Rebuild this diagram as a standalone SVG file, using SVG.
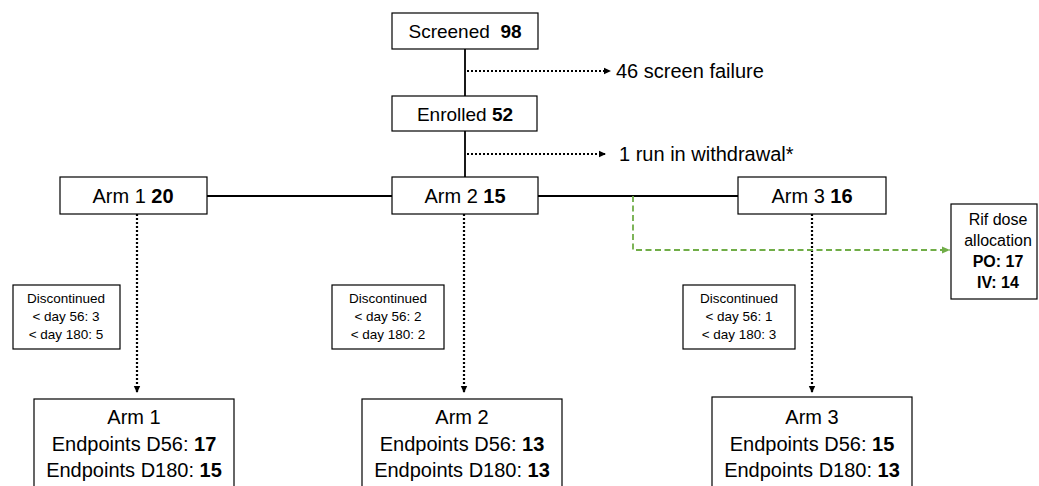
<svg xmlns="http://www.w3.org/2000/svg" width="1039" height="486" viewBox="0 0 1039 486">
<style>
  text { font-family: "Liberation Sans", Arial, sans-serif; fill: #000; }
  .box { fill: #fff; stroke: #000; stroke-width: 1.2; }
  .solid { stroke: #000; stroke-width: 1.8; fill: none; }
  .dot { stroke: #000; stroke-width: 2; stroke-dasharray: 2 2; fill: none; }
  .dotv { stroke: #000; stroke-width: 2.2; stroke-dasharray: 2 2; fill: none; }
  .green { stroke: #70AD47; stroke-width: 1.8; stroke-dasharray: 6 3.5; fill: none; }
  .t19 { font-size: 19px; }
  .t20 { font-size: 20px; }
  .t13 { font-size: 13.5px; }
  .t16 { font-size: 16px; }
  b, .b { font-weight: bold; }
</style>
<defs>
  <marker id="ab" markerWidth="8" markerHeight="8" refX="7" refY="4" orient="auto" markerUnits="userSpaceOnUse">
    <path d="M0,0.8 L7,4 L0,7.2 Z" fill="#000"/>
  </marker>
  <marker id="ag" markerWidth="9" markerHeight="9" refX="8" refY="4.5" orient="auto" markerUnits="userSpaceOnUse">
    <path d="M0,1 L8,4.5 L0,8 Z" fill="#70AD47"/>
  </marker>
</defs>

<g id="connectors">
  <line class="solid" x1="465" y1="49" x2="465" y2="96"/>
  <line class="solid" x1="465" y1="131" x2="465" y2="177"/>
  <line class="solid" x1="207" y1="196" x2="392" y2="196"/>
  <line class="solid" x1="538" y1="196" x2="738" y2="196"/>
  <line class="dot" x1="467" y1="71" x2="611" y2="71" marker-end="url(#ab)"/>
  <line class="dot" x1="467" y1="154" x2="606" y2="154" marker-end="url(#ab)"/>
  <line class="dotv" x1="137" y1="214" x2="137" y2="393" marker-end="url(#ab)"/>
  <line class="dotv" x1="464" y1="214" x2="464" y2="393" marker-end="url(#ab)"/>
  <line class="dotv" x1="812" y1="214" x2="812" y2="393" marker-end="url(#ab)"/>
  <polyline class="green" points="633,196 633,250 950,250" marker-end="url(#ag)"/>
</g>

<g id="screened">
  <rect class="box" x="392" y="13" width="146" height="36"/>
  <text class="t19" x="465" y="38" text-anchor="middle" xml:space="preserve">Screened  <tspan class="b">98</tspan></text>
</g>
<g id="screen-failure">
  <text class="t20" x="616" y="78">46 screen failure</text>
</g>
<g id="enrolled">
  <rect class="box" x="392" y="96" width="145" height="35"/>
  <text class="t19" x="465" y="121" text-anchor="middle">Enrolled <tspan class="b">52</tspan></text>
</g>
<g id="withdrawal">
  <text class="t20" x="619" y="161">1 run in withdrawal*</text>
</g>

<g id="arm1">
  <rect class="box" x="60" y="177" width="147" height="37"/>
  <text class="t20" x="133" y="203" text-anchor="middle">Arm 1 <tspan class="b">20</tspan></text>
</g>
<g id="arm2">
  <rect class="box" x="392" y="177" width="146" height="37"/>
  <text class="t20" x="465" y="203" text-anchor="middle">Arm 2 <tspan class="b">15</tspan></text>
</g>
<g id="arm3">
  <rect class="box" x="738" y="177" width="148" height="37"/>
  <text class="t20" x="812" y="203" text-anchor="middle">Arm 3 <tspan class="b">16</tspan></text>
</g>

<g id="rif">
  <rect class="box" x="951" y="204" width="86" height="95"/>
  <text class="t16" x="998" y="225" text-anchor="middle">Rif dose</text>
  <text class="t16" x="998" y="246" text-anchor="middle">allocation</text>
  <text class="t16 b" x="998" y="267" text-anchor="middle">PO: 17</text>
  <text class="t16 b" x="998" y="288" text-anchor="middle">IV: 14</text>
</g>

<g id="disc1">
  <rect class="box" x="13" y="285" width="107" height="64"/>
  <text class="t13" x="66" y="303" text-anchor="middle">Discontinued</text>
  <text class="t13" x="66" y="321" text-anchor="middle">&lt; day 56: 3</text>
  <text class="t13" x="66" y="339" text-anchor="middle">&lt; day 180: 5</text>
</g>
<g id="disc2">
  <rect class="box" x="332" y="285" width="112" height="64"/>
  <text class="t13" x="388" y="303" text-anchor="middle">Discontinued</text>
  <text class="t13" x="388" y="321" text-anchor="middle">&lt; day 56: 2</text>
  <text class="t13" x="388" y="339" text-anchor="middle">&lt; day 180: 2</text>
</g>
<g id="disc3">
  <rect class="box" x="683" y="285" width="112" height="64"/>
  <text class="t13" x="739" y="303" text-anchor="middle">Discontinued</text>
  <text class="t13" x="739" y="321" text-anchor="middle">&lt; day 56: 1</text>
  <text class="t13" x="739" y="339" text-anchor="middle">&lt; day 180: 3</text>
</g>

<g id="end1">
  <rect class="box" x="34" y="399" width="200" height="100"/>
  <text class="t20" x="134" y="424" text-anchor="middle">Arm 1</text>
  <text class="t20" x="134" y="451" text-anchor="middle">Endpoints D56: <tspan class="b">17</tspan></text>
  <text class="t20" x="134" y="477" text-anchor="middle">Endpoints D180: <tspan class="b">15</tspan></text>
</g>
<g id="end2">
  <rect class="box" x="362" y="399" width="200" height="100"/>
  <text class="t20" x="462" y="424" text-anchor="middle">Arm 2</text>
  <text class="t20" x="462" y="451" text-anchor="middle">Endpoints D56: <tspan class="b">13</tspan></text>
  <text class="t20" x="462" y="477" text-anchor="middle">Endpoints D180: <tspan class="b">13</tspan></text>
</g>
<g id="end3">
  <rect class="box" x="712" y="397" width="200" height="100"/>
  <text class="t20" x="812" y="424" text-anchor="middle">Arm 3</text>
  <text class="t20" x="812" y="451" text-anchor="middle">Endpoints D56: <tspan class="b">15</tspan></text>
  <text class="t20" x="812" y="477" text-anchor="middle">Endpoints D180: <tspan class="b">13</tspan></text>
</g>
</svg>
